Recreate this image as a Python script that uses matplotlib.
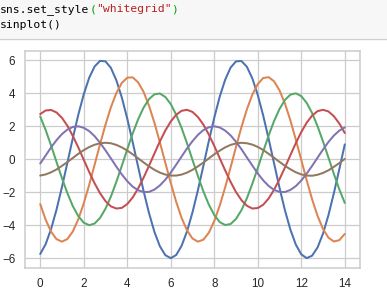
import matplotlib
matplotlib.use("Agg")
import matplotlib.pyplot as plt
from matplotlib.patches import Rectangle
from matplotlib.lines import Line2D

# ---- data ----
x_vals = [0.0, 0.25, 0.5, 0.75, 1.0, 1.25, 1.5, 1.75, 2.0, 2.25, 2.5, 2.75,
          3.0, 3.25, 3.5, 3.75, 4.0, 4.25, 4.5, 4.75, 5.0, 5.25, 5.5, 5.75,
          6.0, 6.25, 6.5, 6.75, 7.0, 7.25, 7.5, 7.75, 8.0, 8.25, 8.5, 8.75,
          9.0, 9.25, 9.5, 9.75, 10.0, 10.25, 10.5, 10.75, 11.0, 11.25, 11.5,
          11.75, 12.0, 12.25, 12.5, 12.75, 13.0, 13.25, 13.5, 13.75, 14.0]

series_1 = [-5.75, -5.15, -4.23, -3.05, -1.68, -0.20, 1.29, 2.70, 3.94, 4.94,
            5.63, 5.97, 5.94, 5.54, 4.79, 3.75, 2.47, 1.04, -0.45, -1.92,
            -3.26, -4.41, -5.28, -5.82, -6.00, -5.81, -5.25, -4.37, -3.22,
            -1.87, -0.40, 1.10, 2.52, 3.79, 4.82, 5.56, 5.94, 5.96, 5.61,
            4.91, 3.90, 2.65, 1.24, -0.25, -1.73, -3.10, -4.27, -5.18, -5.77,
            -6.00, -5.85, -5.35, -4.51, -3.39, -2.05, -0.60, 0.90]

series_2 = [-2.72, -3.67, -4.40, -4.85, -5.00, -4.84, -4.38, -3.64, -2.68,
            -1.56, -0.33, 0.91, 2.10, 3.16, 4.02, 4.63, 4.95, 4.97, 4.67,
            4.09, 3.25, 2.21, 1.03, -0.21, -1.44, -2.58, -3.56, -4.32, -4.81,
            -5.00, -4.88, -4.46, -3.75, -2.82, -1.71, -0.50, 0.75, 1.95, 3.03,
            3.92, 4.56, 4.93, 4.98, 4.73, 4.18, 3.38, 2.36, 1.19, -0.04,
            -1.28, -2.44, -3.44, -4.23, -4.76, -4.99, -4.91, -4.53]

series_3 = [2.60, 1.77, 0.83, -0.17, -1.15, -2.06, -2.85, -3.45, -3.85, -4.00,
            -3.90, -3.56, -3.00, -2.26, -1.37, -0.40, 0.60, 1.56, 2.42, 3.13,
            3.65, 3.94, 3.99, 3.78, 3.35, 2.70, 1.89, 0.96, -0.04, -1.02,
            -1.95, -2.75, -3.38, -3.81, -3.99, -3.93, -3.62, -3.09, -2.37,
            -1.49, -0.53, 0.47, 1.44, 2.32, 3.05, 3.60, 3.92, 4.00, 3.83,
            3.42, 2.80, 2.00, 1.08, 0.10, -0.89, -1.83, -2.65]

series_4 = [2.74, 2.96, 2.99, 2.84, 2.51, 2.03, 1.41, 0.72, -0.03, -0.77,
            -1.46, -2.06, -2.54, -2.86, -2.99, -2.95, -2.72, -2.32, -1.77,
            -1.12, -0.40, 0.35, 1.08, 1.74, 2.29, 2.70, 2.94, 3.00, 2.87,
            2.56, 2.10, 1.50, 0.81, 0.07, -0.67, -1.37, -1.99, -2.48, -2.82,
            -2.99, -2.96, -2.76, -2.38, -1.85, -1.21, -0.50, 0.25, 0.98, 1.65,
            2.22, 2.65, 2.92, 3.00, 2.90, 2.61, 2.17, 1.59]

series_5 = [-0.26, 0.23, 0.72, 1.16, 1.53, 1.80, 1.96, 2.00, 1.91, 1.71, 1.40,
            1.00, 0.54, 0.05, -0.45, -0.92, -1.33, -1.66, -1.88, -1.99, -1.98,
            -1.84, -1.59, -1.24, -0.81, -0.33, 0.17, 0.66, 1.10, 1.48, 1.77,
            1.94, 2.00, 1.93, 1.74, 1.45, 1.06, 0.61, 0.11, -0.38, -0.86,
            -1.28, -1.62, -1.86, -1.98, -1.99, -1.86, -1.63, -1.29, -0.87,
            -0.40, 0.10, 0.59, 1.05, 1.44, 1.74, 1.93]

series_6 = [-0.99, -0.92, -0.79, -0.62, -0.40, -0.17, 0.08, 0.33, 0.55, 0.74,
            0.88, 0.97, 1.00, 0.97, 0.87, 0.72, 0.53, 0.30, 0.06, -0.19, -0.43,
            -0.64, -0.81, -0.93, -0.99, -0.99, -0.93, -0.81, -0.64, -0.43,
            -0.20, 0.05, 0.30, 0.52, 0.72, 0.87, 0.96, 1.00, 0.97, 0.89, 0.75,
            0.56, 0.33, 0.09, -0.16, -0.40, -0.61, -0.79, -0.92, -0.99, -1.00,
            -0.94, -0.83, -0.67, -0.46, -0.23, 0.02]

x_ticks = [0, 2, 4, 6, 8, 10, 12, 14]
y_ticks = [-6, -4, -2, 0, 2, 4, 6]

colors = ["#4C72B0", "#DD8452", "#55A868", "#C44E52", "#8172B3", "#937860"]

code_line1 = [("sns.set_style", "#000000"), ("(", "#00a000"),
              ('"whitegrid"', "#ba2121"), (")", "#00a000")]
code_line2 = [("sinplot()", "#000000")]

# ---- figure ----
W, H = 387, 304
fig = plt.figure(figsize=(W / 100, H / 100), dpi=100)
fig.patch.set_facecolor("white")

# notebook code cell header
fig.patches.append(Rectangle((0, 1 - 38 / H), 1, 38 / H, transform=fig.transFigure,
                             facecolor="#f7f7f7", edgecolor="none", zorder=0))
fig.lines.append(Line2D([0, 1], [1 - 38.5 / H, 1 - 38.5 / H], transform=fig.transFigure,
                        color="#cfcfcf", lw=1.0))

fs_code = 8.2
adv = 0.602 * fs_code * 100 / 72  # px per char
for line, base in ((code_line1, 12.3), (code_line2, 28.3)):
    k = 0
    for txt, col in line:
        fig.text(k * adv / W, 1 - base / H, txt, family="DejaVu Sans Mono",
                 fontsize=fs_code, color=col, va="baseline", ha="left")
        k += len(txt)

ax = fig.add_axes([25 / W, (H - 268) / H, (360 - 25) / W, (268 - 51) / H])
ax.set_facecolor("white")
series = [series_1, series_2, series_3, series_4, series_5, series_6]
for s, c in zip(series, colors):
    ax.plot(x_vals, s, color=c, lw=1.45, solid_capstyle="round")

ax.set_xticks(x_ticks)
ax.set_yticks(y_ticks)
ax.grid(True, color="#cccccc", lw=0.9)
ax.set_axisbelow(True)
for sp in ax.spines.values():
    sp.set_color("#cccccc")
    sp.set_linewidth(1.1)
ax.tick_params(length=0, pad=7, labelsize=8.4, labelcolor="#262626")
for lab in ax.get_xticklabels() + ax.get_yticklabels():
    lab.set_family(["Liberation Sans", "DejaVu Sans"])

fig.savefig("out.png", dpi=100)
